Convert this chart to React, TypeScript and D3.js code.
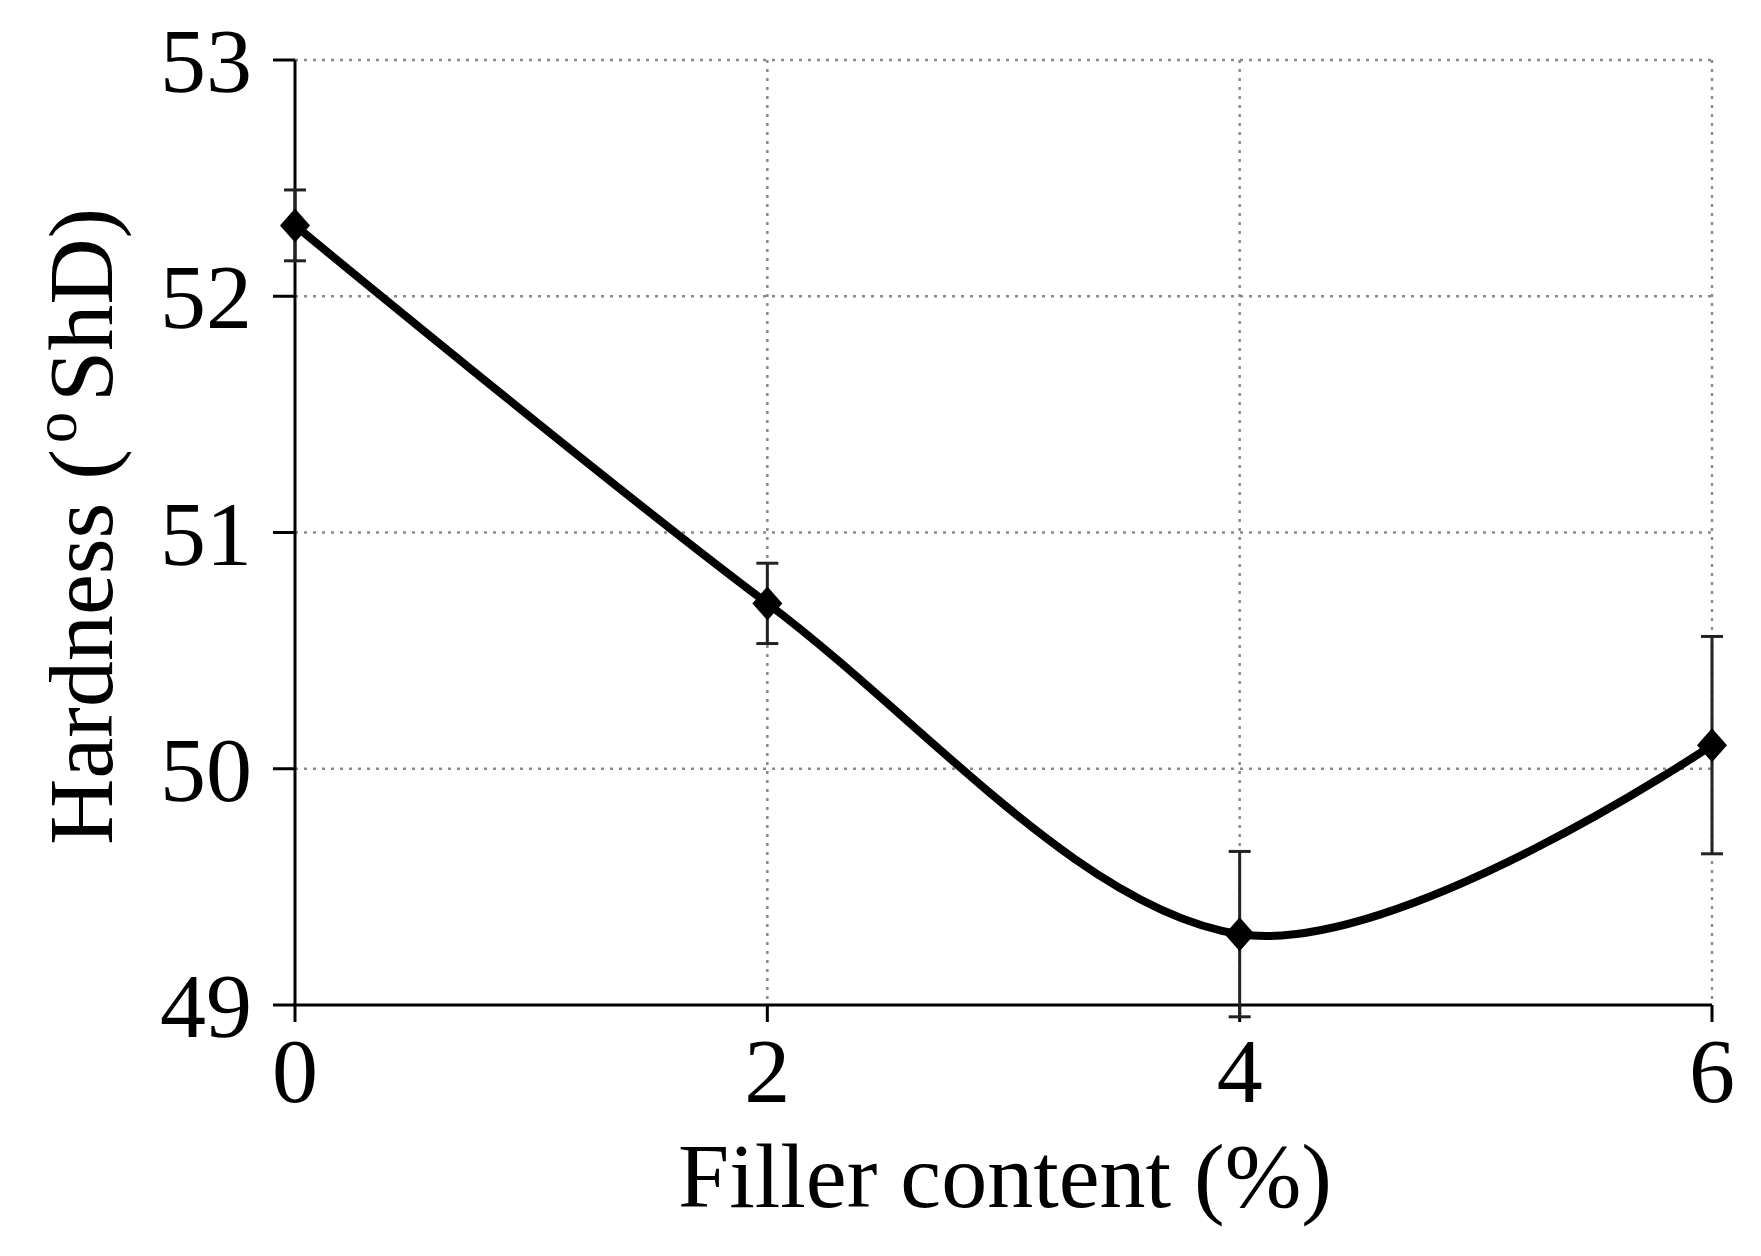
import React from "react";
import * as d3 from "d3";

const fillerContent = [0, 2, 4, 6];
const hardness = [52.3, 50.7, 49.3, 50.1];
const hardnessErr = [0.15, 0.17, 0.35, 0.46];
const xTicks = [0, 2, 4, 6];
const yTicks = [49, 50, 51, 52, 53];

const W = 1761;
const H = 1256;
const FONT = "'Liberation Serif', 'DejaVu Serif', 'Times New Roman', serif";

export default function App() {
  const x = d3.scaleLinear().domain([0, 6]).range([295, 1712]);
  const y = d3.scaleLinear().domain([49, 53]).range([1005, 60]);

  const pts: [number, number][] = fillerContent.map((v, i) => [x(v), y(hardness[i])]);
  const line = d3.line().curve(d3.curveCardinal.tension(0))(pts) || "";

  const diamond = (cx: number, cy: number) =>
    `M${cx},${cy - 17}L${cx + 15},${cy}L${cx},${cy + 17}L${cx - 15},${cy}Z`;

  return (
    <svg
      width={W}
      height={H}
      style={{ position: "absolute", left: 0, top: 0, display: "block", background: "#fff" }}
    >
      <rect x={0} y={0} width={W} height={H} fill="#fff" />
      {/* gridlines */}
      {yTicks.filter((t) => t !== 49).map((t) => (
        <line key={"gy" + t} x1={x(0)} x2={x(6)} y1={y(t)} y2={y(t)}
          stroke="#8a8a8a" strokeWidth={2.5} strokeDasharray="3 6" />
      ))}
      {xTicks.filter((t) => t !== 0).map((t) => (
        <line key={"gx" + t} x1={x(t)} x2={x(t)} y1={y(53)} y2={y(49)}
          stroke="#8a8a8a" strokeWidth={2.5} strokeDasharray="3 6" />
      ))}
      {/* axes */}
      <line x1={x(0)} x2={x(6)} y1={y(49)} y2={y(49)} stroke="#000" strokeWidth={3} />
      <line x1={x(0)} x2={x(0)} y1={y(53)} y2={y(49)} stroke="#000" strokeWidth={3} />
      {yTicks.map((t) => (
        <g key={"ty" + t}>
          <line x1={x(0) - 22} x2={x(0)} y1={y(t)} y2={y(t)} stroke="#000" strokeWidth={3} />
          <text x={252} y={y(t) + 32} textAnchor="end" fontFamily={FONT} fontSize={92} fill="#000">
            {t}
          </text>
        </g>
      ))}
      {xTicks.map((t) => (
        <g key={"tx" + t}>
          <line x1={x(t)} x2={x(t)} y1={y(49)} y2={y(49) + 17} stroke="#000" strokeWidth={3} />
          <text x={x(t)} y={1102} textAnchor="middle" fontFamily={FONT} fontSize={92} fill="#000">
            {t}
          </text>
        </g>
      ))}
      {/* error bars */}
      {fillerContent.map((v, i) => {
        const cx = x(v);
        const y1 = y(hardness[i] + hardnessErr[i]);
        const y2 = y(hardness[i] - hardnessErr[i]);
        return (
          <g key={"eb" + i} stroke="#222" strokeWidth={3}>
            <line x1={cx} x2={cx} y1={y1} y2={y2} />
            <line x1={cx - 11} x2={cx + 11} y1={y1} y2={y1} />
            <line x1={cx - 11} x2={cx + 11} y1={y2} y2={y2} />
          </g>
        );
      })}
      {/* curve */}
      <path d={line} fill="none" stroke="#000" strokeWidth={8} strokeLinejoin="round" />
      {pts.map(([cx, cy], i) => (
        <path key={"m" + i} d={diamond(cx, cy)} fill="#000" />
      ))}
      {/* axis titles */}
      <text x={1005} y={1207} textAnchor="middle" fontFamily={FONT} fontSize={92} fill="#000">
        Filler content (%)
      </text>
      <text
        transform={`translate(112,845) rotate(-90)`}
        textAnchor="start"
        fontFamily={FONT}
        fontSize={92}
        fill="#000"
      >
        Hardness (
        <tspan fontSize={62} dx={6} dy={-36}>o</tspan>
        <tspan dx={10} dy={36}>ShD)</tspan>
      </text>
    </svg>
  );
}
